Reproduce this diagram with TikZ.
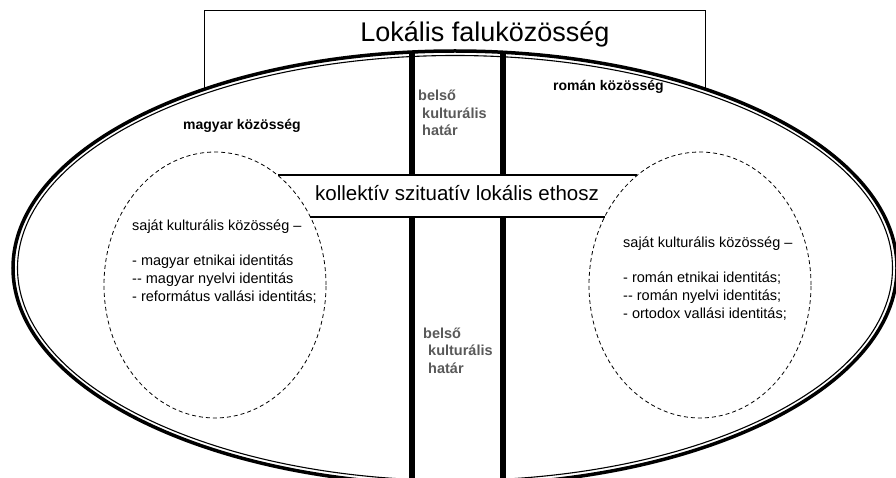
\documentclass[tikz,border=0pt]{standalone}
\usepackage{fontspec}
\setmainfont{Liberation Sans}
\usepackage{xcolor}
\usetikzlibrary{shapes,shapes.geometric,positioning}
\pgfdeclarelayer{edgelayer}
\pgfdeclarelayer{nodelayer}
\pgfsetlayers{edgelayer,nodelayer,main}
\definecolor{hatargray}{RGB}{89,89,89}
\tikzstyle{none}=[inner sep=0mm]
\tikzstyle{title}=[none,font=\fontsize{27}{30}\selectfont]
\tikzstyle{ethosz}=[none,font=\fontsize{20.5}{23}\selectfont]
\tikzstyle{group label}=[none,font=\fontsize{14}{16}\selectfont\bfseries]
\tikzstyle{hatar}=[none,align=left,text=hatargray,font=\fontsize{14.5}{17.5}\selectfont\bfseries]
\tikzstyle{idlist}=[none,align=left,font=\fontsize{14.5}{17.7}\selectfont]
\tikzstyle{outer ring}=[line width=3.5pt]
\tikzstyle{inner ring}=[line width=1.1pt]
\tikzstyle{own circle}=[line width=0.8pt,dash pattern=on 4pt off 3pt]
\tikzstyle{border bar}=[line width=5.5pt]
\tikzstyle{band line}=[line width=1.5pt]

\begin{document}
\begin{tikzpicture}[x=1pt,y=-1pt]
	\clip (0,0) rectangle (896,478);
	\begin{pgfonlayer}{nodelayer}
		\node [style=title,anchor=base] (title) at (485,42) {Lokális faluközösség};
		\node [style=ethosz,anchor=base] (ethosz) at (457,201) {kollektív szituatív lokális ethosz};
		\node [style=group label,anchor=base west] (hulabel) at (183,130) {magyar közösség};
		\node [style=group label,anchor=base west] (rolabel) at (553,91) {román közösség};
		\node [style=hatar,anchor=base west] (hatarup) at (418,136) {belső\\\hspace*{4pt}kulturális\\\hspace*{4pt}határ};
		\node [style=hatar,anchor=base west] (hatarlow) at (423,373) {belső\\\hspace*{5pt}kulturális\\\hspace*{5pt}határ};
		\node [style=idlist,anchor=base west] (hulist) at (132,301) {saját kulturális közösség –\\[17.7pt]- magyar etnikai identitás\\-{}- magyar nyelvi identitás\\- református vallási identitás;};
		\node [style=idlist,anchor=base west] (rolist) at (623,318) {saját kulturális közösség –\\[17.7pt]- román etnikai identitás;\\-{}- román nyelvi identitás;\\- ortodox vallási identitás;};
	\end{pgfonlayer}
	\begin{pgfonlayer}{edgelayer}
		% village frame and the two communities
		\draw [line width=0.8pt] (204,10) rectangle (705,160);
		\fill [white] (455,268) ellipse [x radius=442pt,y radius=217pt];
		\draw [style=outer ring] (455,268) ellipse [x radius=442pt,y radius=217pt];
		\draw [style=inner ring] (455,268) ellipse [x radius=437.5pt,y radius=212.5pt];
		\draw [style=own circle] (215,285) ellipse [x radius=111pt,y radius=133pt];
		\draw [style=own circle] (700,285) ellipse [x radius=111pt,y radius=133pt];
		% borders
		\coordinate (lt) at (412,51);
		\coordinate (rt) at (503,51);
		\coordinate (lm) at (412,175);
		\coordinate (rm) at (503,175);
		\coordinate (ln) at (412,217);
		\coordinate (rn) at (503,217);
		\coordinate (lb) at (412,490);
		\coordinate (rb) at (503,490);
		\draw [style=border bar] (lt) -- (lm);
		\draw [style=border bar] (rt) -- (rm);
		\draw [style=border bar] (ln) -- (lb);
		\draw [style=border bar] (rn) -- (rb);
		% ethos band
		\draw [style=band line] (278,175) -- (637,175);
		\draw [style=band line] (310,217) -- (605,217);
	\end{pgfonlayer}
\end{tikzpicture}
\end{document}
